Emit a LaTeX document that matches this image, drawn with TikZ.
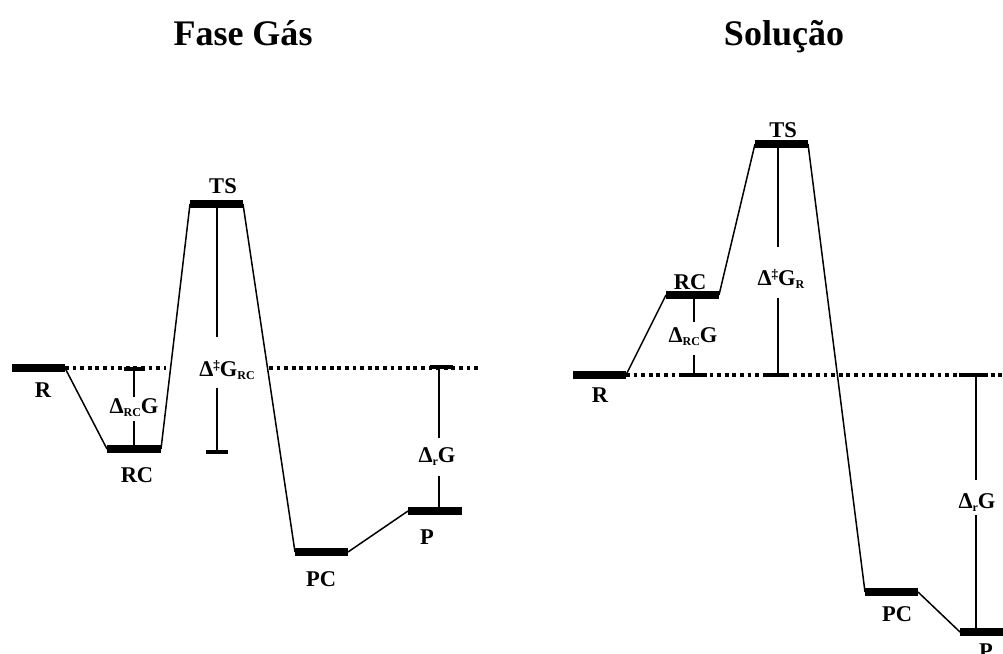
\documentclass[tikz,border=0pt]{standalone}
\usepackage{fontspec}
\setmainfont{Liberation Serif}
\newcommand\mysub[1]{\raisebox{-3pt}{\fontsize{12}{12}\selectfont #1}}
\newcommand\mysup[1]{\raisebox{7pt}{\fontsize{13}{13}\selectfont #1}}
\begin{document}
\begin{tikzpicture}[x=1pt,y=-1pt,
  lvl/.style={line width=8pt},
  conn/.style={line width=1.5pt},
  refline/.style={line width=3.8pt, dash pattern=on 3.8pt off 3.8pt},
  tickmark/.style={line width=3.8pt},
  lbl/.style={font=\fontsize{22.5}{25}\selectfont\bfseries, inner sep=0pt},
  dlbl/.style={lbl, anchor=base},
  ttl/.style={font=\fontsize{36}{40}\selectfont\bfseries, anchor=base, inner sep=0pt}]
\path[use as bounding box] (0,0) rectangle (1003,653);

% ---------------- Fase Gas ----------------
\node[ttl] (t1) at (243,45) {Fase Gás};

\coordinate (gR1) at (12,368);   \coordinate (gR2) at (65,368);
\coordinate (gRC1) at (107,449); \coordinate (gRC2) at (161,449);
\coordinate (gTS1) at (190,204); \coordinate (gTS2) at (243,204);
\coordinate (gPC1) at (295,552); \coordinate (gPC2) at (348,552);
\coordinate (gP1) at (408,511);  \coordinate (gP2) at (462,511);
\coordinate (gX1) at (166,368);  \coordinate (gX2) at (269,368);
\coordinate (gD) at (480,368);

\draw[refline] (gR2) -- (gX1);
\draw[refline] (gX2) -- (gD);

\draw[conn] (gR2) -- (gRC1);
\draw[conn] (gRC2) -- (gTS1);
\draw[conn] (gTS2) -- (gPC1);
\draw[conn] (gPC2) -- (gP1);

% Delta_RC G (gas)
\coordinate (ga0) at (134,369); \coordinate (ga1) at (134,397);
\coordinate (ga2) at (134,421); \coordinate (ga3) at (134,449);
\coordinate (gat1) at (124,369); \coordinate (gat2) at (145,369);
\draw[conn] (ga0) -- (ga1);
\draw[conn] (ga2) -- (ga3);
\draw[tickmark] (gat1) -- (gat2);
\node[dlbl] (gaL) at (134,413) {Δ\mysub{RC}G};

% Delta double dagger G_RC (gas)
\coordinate (gb0) at (217,204); \coordinate (gb1) at (217,337);
\coordinate (gb2) at (217,388); \coordinate (gb3) at (217,452);
\coordinate (gbt1) at (206,452); \coordinate (gbt2) at (228,452);
\draw[conn] (gb0) -- (gb1);
\draw[conn] (gb2) -- (gb3);
\draw[tickmark] (gbt1) -- (gbt2);
\node[dlbl] (gbL) at (227,376) {Δ\mysup{‡}G\mysub{RC}};

% Delta_r G (gas)
\coordinate (gc0) at (439,367); \coordinate (gc1) at (439,438);
\coordinate (gc2) at (439,476); \coordinate (gc3) at (439,511);
\coordinate (gct1) at (430,367); \coordinate (gct2) at (453,367);
\draw[conn] (gc0) -- (gc1);
\draw[conn] (gc2) -- (gc3);
\draw[tickmark] (gct1) -- (gct2);
\node[dlbl] (gcL) at (437,462) {Δ\mysub{r}G};

\draw[lvl] (gR1) -- (gR2);
\draw[lvl] (gRC1) -- (gRC2);
\draw[lvl] (gTS1) -- (gTS2);
\draw[lvl] (gPC1) -- (gPC2);
\draw[lvl] (gP1) -- (gP2);

\node[lbl] (gRl) at (43,390) {R};
\node[lbl] (gRCl) at (137,475) {RC};
\node[lbl] (gTSl) at (223,186) {TS};
\node[lbl] (gPCl) at (321,579) {PC};
\node[lbl] (gPl) at (427,537) {P};

% ---------------- Solucao ----------------
\node[ttl] (t2) at (784,45) {Solução};

\coordinate (sR1) at (573,375);  \coordinate (sR2) at (626,375);
\coordinate (sRC1) at (666,295); \coordinate (sRC2) at (719,295);
\coordinate (sTS1) at (755,144); \coordinate (sTS2) at (808,144);
\coordinate (sPC1) at (865,592); \coordinate (sPC2) at (918,592);
\coordinate (sP1) at (960,632);  \coordinate (sP2) at (1010,632);
\coordinate (sD) at (1010,375);

\draw[refline] (sR2) -- (sD);

\draw[conn] (sR2) -- (sRC1);
\draw[conn] (sRC2) -- (sTS1);
\draw[conn] (sTS2) -- (sPC1);
\draw[conn] (sPC2) -- (sP1);

% Delta_RC G (solution)
\coordinate (sa0) at (694,295); \coordinate (sa1) at (694,322);
\coordinate (sa2) at (694,355); \coordinate (sa3) at (694,375);
\coordinate (sat1) at (683,375); \coordinate (sat2) at (707,375);
\draw[conn] (sa0) -- (sa1);
\draw[conn] (sa2) -- (sa3);
\draw[tickmark] (sat1) -- (sat2);
\node[dlbl] (saL) at (693,342) {Δ\mysub{RC}G};

% Delta double dagger G_R (solution)
\coordinate (sb0) at (778,144); \coordinate (sb1) at (778,247);
\coordinate (sb2) at (778,298); \coordinate (sb3) at (778,375);
\coordinate (sbt1) at (767,375); \coordinate (sbt2) at (789,375);
\draw[conn] (sb0) -- (sb1);
\draw[conn] (sb2) -- (sb3);
\draw[tickmark] (sbt1) -- (sbt2);
\node[dlbl] (sbL) at (781,285) {Δ\mysup{‡}G\mysub{R}};

% Delta_r G (solution)
\coordinate (sc0) at (976,375); \coordinate (sc1) at (976,480);
\coordinate (sc2) at (976,515); \coordinate (sc3) at (976,632);
\coordinate (sct1) at (959,375); \coordinate (sct2) at (988,375);
\draw[conn] (sc0) -- (sc1);
\draw[conn] (sc2) -- (sc3);
\draw[tickmark] (sct1) -- (sct2);
\node[dlbl] (scL) at (977,508) {Δ\mysub{r}G};

\draw[lvl] (sR1) -- (sR2);
\draw[lvl] (sRC1) -- (sRC2);
\draw[lvl] (sTS1) -- (sTS2);
\draw[lvl] (sPC1) -- (sPC2);
\draw[lvl] (sP1) -- (sP2);

\node[lbl] (sRl) at (600,395) {R};
\node[lbl] (sRCl) at (690,282) {RC};
\node[lbl] (sTSl) at (783,130) {TS};
\node[lbl] (sPCl) at (897,614) {PC};
\node[lbl, anchor=north] (sPl) at (986,644) {P};
\end{tikzpicture}
\end{document}
